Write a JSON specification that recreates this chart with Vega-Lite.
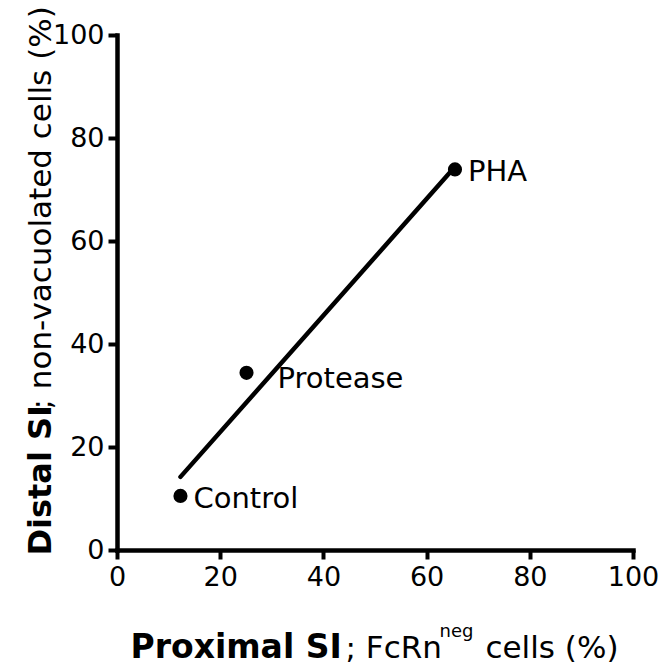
{
  "$schema": "https://vega.github.io/schema/vega-lite/v6.json",
  "width": 516,
  "height": 515,
  "autosize": {"type": "none"},
  "padding": {"left": 117, "top": 35, "right": 27, "bottom": 115},
  "background": "white",
  "config": {
    "view": {"stroke": null},
    "font": "DejaVu Sans",
    "axis": {"grid": false, "titleFont": "DejaVu Sans", "labelFont": "DejaVu Sans", "titleColor": "black", "labelColor": "black"}
  },
  "datasets": {
    "points": [
      {"x": 12.3, "y": 10.5, "label": "Control"},
      {"x": 25.1, "y": 34.4, "label": "Protease"},
      {"x": 65.5, "y": 73.9, "label": "PHA"}
    ],
    "fit": [
      {"x": 12.3, "y": 14.2},
      {"x": 65.5, "y": 74.4}
    ]
  },
  "layer": [
    {
      "data": {"name": "fit"},
      "mark": {"type": "line", "color": "black", "strokeWidth": 4.5, "strokeCap": "round"},
      "encoding": {
        "x": {
          "field": "x", "type": "quantitative",
          "scale": {"domain": [0, 100], "nice": false, "zero": false},
          "axis": {
            "orient": "bottom",
            "values": [0, 20, 40, 60, 80, 100],
            "title": "Proximal SI", "titleFontWeight": "bold", "titleFontSize": 33,
            "titleAlign": "left", "titleBaseline": "alphabetic", "titleAngle": 0,
            "titleX": 13, "titleY": 107,
            "domainColor": "black", "domainWidth": 4.5, "domainCap": "square",
            "tickColor": "black", "tickWidth": 4, "tickSize": 9,
            "labelFontSize": 27, "labelPadding": 5, "labelFlush": false, "labelOverlap": false
          }
        },
        "y": {
          "field": "y", "type": "quantitative",
          "scale": {"domain": [0, 100], "nice": false, "zero": false},
          "axis": {
            "orient": "left",
            "values": [0, 20, 40, 60, 80, 100],
            "title": "Distal SI", "titleFontWeight": "bold", "titleFontSize": 32,
            "titleAlign": "left", "titleBaseline": "alphabetic", "titleAngle": -90,
            "titleX": -67, "titleY": 520,
            "domainColor": "black", "domainWidth": 4.5, "domainCap": "square",
            "tickColor": "black", "tickWidth": 4, "tickSize": 9,
            "labelFontSize": 27, "labelPadding": 4, "labelFlush": false, "labelOverlap": false
          }
        }
      }
    },
    {
      "data": {"name": "points"},
      "mark": {"type": "point", "filled": true, "color": "black", "opacity": 1, "size": 200},
      "encoding": {
        "x": {
          "field": "x", "type": "quantitative",
          "scale": {"domain": [0, 100], "nice": false, "zero": false},
          "axis": {
            "orient": "bottom", "domain": false, "ticks": false, "labels": false,
            "title": "; FcRn", "titleFontWeight": "normal", "titleFontSize": 31,
            "titleAlign": "left", "titleBaseline": "alphabetic", "titleAngle": 0,
            "titleX": 228, "titleY": 107
          }
        },
        "y": {
          "field": "y", "type": "quantitative",
          "scale": {"domain": [0, 100], "nice": false, "zero": false},
          "axis": {
            "orient": "left", "domain": false, "ticks": false, "labels": false,
            "title": "; non-vacuolated cells (%)", "titleFontWeight": "normal", "titleFontSize": 31,
            "titleAlign": "left", "titleBaseline": "alphabetic", "titleAngle": -90,
            "titleX": -67, "titleY": 374
          }
        }
      }
    },
    {
      "data": {"name": "points"},
      "transform": [{"filter": "datum.label !== 'Protease'"}],
      "mark": {"type": "text", "align": "left", "baseline": "alphabetic", "dx": 13, "dy": 12, "fontSize": 29, "color": "black", "font": "DejaVu Sans"},
      "encoding": {
        "x": {
          "field": "x", "type": "quantitative",
          "scale": {"domain": [0, 100], "nice": false, "zero": false},
          "axis": {
            "orient": "bottom", "domain": false, "ticks": false, "labels": false,
            "title": "neg", "titleFontWeight": "normal", "titleFontSize": 18,
            "titleAlign": "left", "titleBaseline": "alphabetic", "titleAngle": 0,
            "titleX": 322, "titleY": 86
          }
        },
        "y": {
          "field": "y", "type": "quantitative",
          "scale": {"domain": [0, 100], "nice": false, "zero": false},
          "axis": null
        },
        "text": {"field": "label"}
      }
    },
    {
      "data": {"name": "points"},
      "transform": [{"filter": "datum.label === 'Protease'"}],
      "mark": {"type": "text", "align": "left", "baseline": "alphabetic", "dx": 31, "dy": 15, "fontSize": 29, "color": "black", "font": "DejaVu Sans"},
      "encoding": {
        "x": {
          "field": "x", "type": "quantitative",
          "scale": {"domain": [0, 100], "nice": false, "zero": false},
          "axis": {
            "orient": "bottom", "domain": false, "ticks": false, "labels": false,
            "title": "cells (%)", "titleFontWeight": "normal", "titleFontSize": 31,
            "titleAlign": "left", "titleBaseline": "alphabetic", "titleAngle": 0,
            "titleX": 368, "titleY": 107
          }
        },
        "y": {
          "field": "y", "type": "quantitative",
          "scale": {"domain": [0, 100], "nice": false, "zero": false},
          "axis": null
        },
        "text": {"field": "label"}
      }
    }
  ],
  "resolve": {"axis": {"x": "independent", "y": "independent"}}
}
